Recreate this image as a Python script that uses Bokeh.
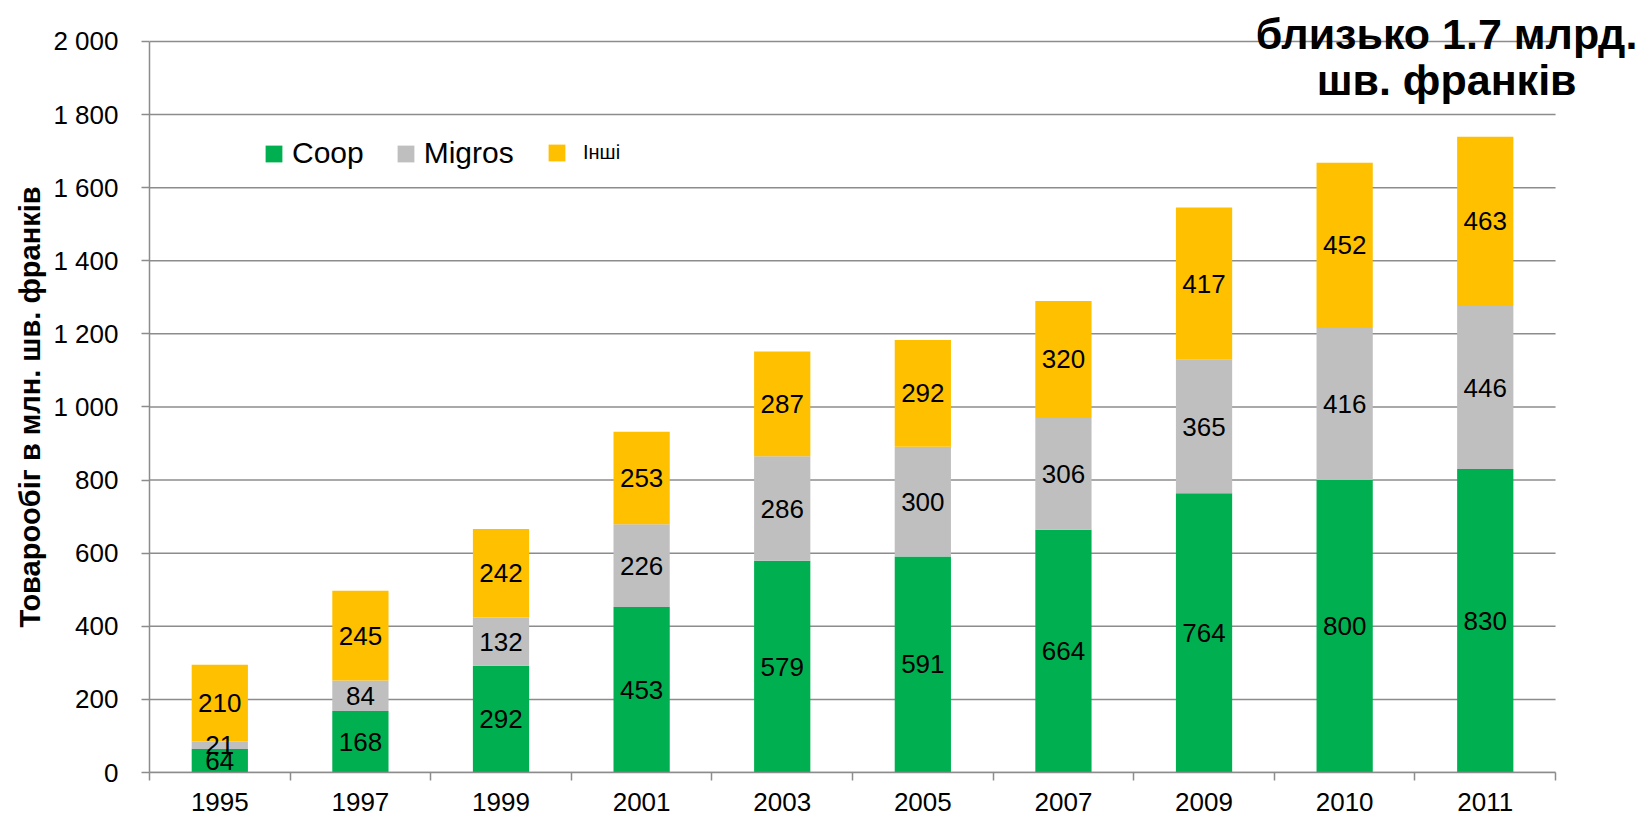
from bokeh.plotting import figure
from bokeh.models import (Range1d, FixedTicker, Legend, LegendItem, Label, Title,
                          ColumnDataSource, CustomJSTickFormatter)
from bokeh.core.properties import value
from bokeh.embed import file_html
from bokeh.resources import INLINE

# ---- data ----
years = ["1995", "1997", "1999", "2001", "2003", "2005", "2007", "2009", "2010", "2011"]
coop = [64, 168, 292, 453, 579, 591, 664, 764, 800, 830]
migros = [21, 84, 132, 226, 286, 300, 306, 365, 416, 446]
others = [210, 245, 242, 253, 287, 292, 320, 417, 452, 463]
series_names = ["Coop", "Migros", "Інші"]
series_colors = ["#00B050", "#BFBFBF", "#FFC000"]
y_ticks = [0, 200, 400, 600, 800, 1000, 1200, 1400, 1600, 1800, 2000]
y_tick_labels = ["0", "200", "400", "600", "800", "1 000", "1 200", "1 400", "1 600", "1 800", "2 000"]
title_lines = ["близько 1.7 млрд.", "шв. франків"]
y_axis_title = "Товарообіг в млн. шв. франків"

FONT = "Liberation Sans"
GRID = "#8C8C8C"

n = len(years)
xs = [i + 0.5 for i in range(n)]

# the frame is extended to the right/top so the note text is not clipped;
# axis lines and gridlines are bounded to the real chart area
p = figure(width=1639, height=817, output_backend="svg", toolbar_location=None,
           x_range=Range1d(0, 10.597), y_range=Range1d(0, 2112),
           min_border_left=149, min_border_right=0, min_border_top=0, min_border_bottom=45)
p.outline_line_color = None
p.background_fill_color = "white"
p.xgrid.grid_line_color = None
p.ygrid.grid_line_color = None

# horizontal gridlines limited to the category area
p.segment(x0=[0] * len(y_ticks), x1=[n] * len(y_ticks), y0=y_ticks, y1=y_ticks,
          line_color=GRID, line_width=1.5)

src = ColumnDataSource(dict(x=xs, Coop=coop, Migros=migros, **{"Інші": others}))
renderers = p.vbar_stack(series_names, x="x", width=0.4, color=series_colors,
                         line_width=0, source=src)

# data labels
lx, ly, lt = [], [], []
for i in range(n):
    base = 0
    for vals in (coop, migros, others):
        v = vals[i]
        lx.append(xs[i]); ly.append(base + v / 2); lt.append(str(v))
        base += v
p.text(x=lx, y=ly, text=lt, text_align="center", text_baseline="middle",
       text_font=value(FONT), text_font_size="26px", text_color="black")

ya = p.yaxis[0]
ya.ticker = FixedTicker(ticks=y_ticks)
ya.bounds = (y_ticks[0], y_ticks[-1])
ya.major_label_overrides = {t: l for t, l in zip(y_ticks, y_tick_labels)}
ya.major_label_text_font = FONT
ya.major_label_text_font_size = "26px"
ya.major_label_text_color = "black"
ya.major_label_standoff = 23
ya.major_tick_out = 8
ya.major_tick_in = 0
ya.minor_tick_line_color = None
ya.major_tick_line_color = GRID
ya.major_tick_line_width = 1.5
ya.axis_line_color = GRID
ya.axis_line_width = 1.5

# y-axis title, centred on the 0..2000 span (starts 145px above the frame bottom)
p.add_layout(Title(text=y_axis_title, align="left", offset=145, standoff=10,
                   text_font=FONT, text_font_size="29px", text_font_style="bold",
                   text_color="black"), "left")

xa = p.xaxis[0]
xa.bounds = (0, n)
xa.ticker = FixedTicker(ticks=xs, minor_ticks=list(range(n + 1)))
xa.formatter = CustomJSTickFormatter(args=dict(labels=years),
                                     code="const i = Math.floor(tick); return (i >= 0 && i < labels.length) ? labels[i] : '';")
xa.major_tick_out = 0
xa.major_tick_in = 0
xa.minor_tick_out = 8
xa.minor_tick_in = 0
xa.minor_tick_line_color = GRID
xa.minor_tick_line_width = 1.5
xa.axis_line_color = GRID
xa.axis_line_width = 1.5
xa.major_label_text_font = FONT
xa.major_label_text_font_size = "26px"
xa.major_label_text_color = "black"
xa.major_label_standoff = 12

# legend (the last entry uses a smaller font, as in the original)
items_main = [LegendItem(label=nm, renderers=[r]) for nm, r in zip(series_names[:2], renderers[:2])]
legend_main = Legend(items=items_main, orientation="horizontal", location=(114, 602),
                     border_line_alpha=0, background_fill_alpha=0,
                     glyph_width=21, glyph_height=21, label_standoff=8, spacing=31,
                     padding=0, margin=0,
                     label_text_font=FONT, label_text_font_size="30px", label_text_color="black")
p.add_layout(legend_main)
legend_other = Legend(items=[LegendItem(label=series_names[2], renderers=[renderers[2]])],
                      orientation="horizontal", location=(397, 608),
                      border_line_alpha=0, background_fill_alpha=0,
                      glyph_width=21, glyph_height=21, label_standoff=16,
                      padding=0, margin=0,
                      label_text_font=FONT, label_text_font_size="20px", label_text_color="black")
p.add_layout(legend_other)

# note text in the top right
for txt, yv in zip(title_lines, [2019, 1894]):
    p.add_layout(Label(x=9.225, y=yv, text=txt, text_align="center", text_baseline="alphabetic",
                       text_font=FONT, text_font_size="43px", text_font_style="bold",
                       text_color="black"))

open("out.html", "w").write(file_html(p, INLINE))
